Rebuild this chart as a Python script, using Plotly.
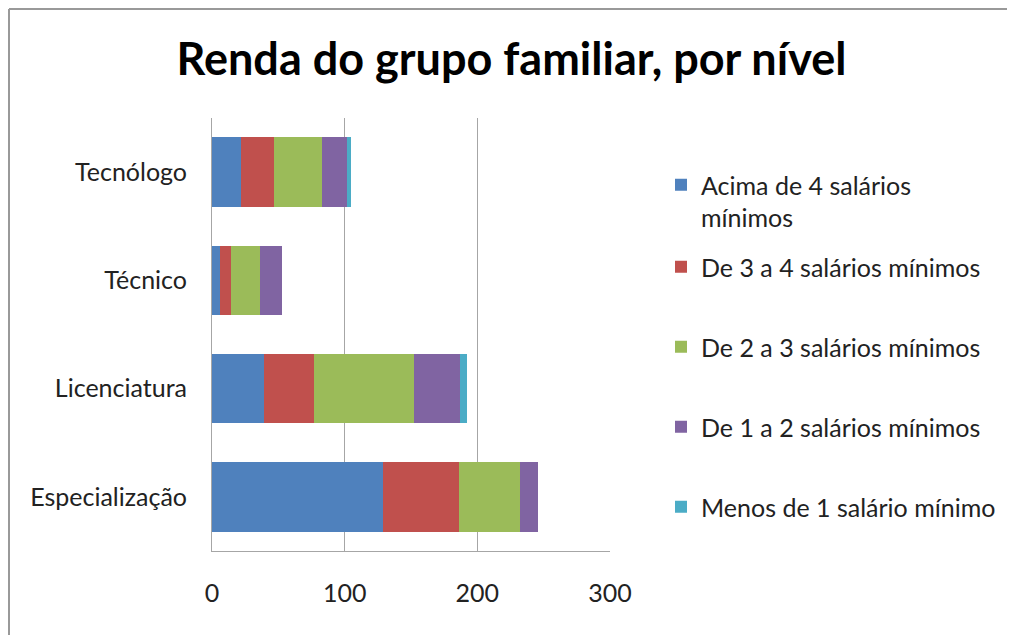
import plotly.graph_objects as go

categories = ["Especialização", "Licenciatura", "Técnico", "Tecnólogo"]
series_names = [
    "Acima de 4 salários<br>mínimos",
    "De 3 a 4 salários mínimos",
    "De 2 a 3 salários mínimos",
    "De 1 a 2 salários mínimos",
    "Menos de 1 salário mínimo",
]
acima_4 = [129, 39, 6, 22]
de_3_a_4 = [57, 38, 8, 25]
de_2_a_3 = [46, 75, 22, 36]
de_1_a_2 = [14, 35, 17, 19]
menos_1 = [0, 5, 0, 3]
x_ticks = [0, 100, 200, 300]

series_values = [acima_4, de_3_a_4, de_2_a_3, de_1_a_2, menos_1]
colors = ["#4F81BD", "#C0504D", "#9BBB59", "#8064A2", "#4BACC6"]

OFF = 8  # page body margin
W, H = 1007, 627
ML, MR, MT, MB = 204, 405, 110, 84
PW = W - ML - MR
PH = H - MT - MB

def px_x(p):
    return (p - OFF - ML) / PW

def px_y(p):
    return (OFF + H - MB - p) / PH

FONT = "Lato, 'Open Sans', sans-serif"
FS = 25

fig = go.Figure()
legend_ids = ["legend", "legend2", "legend3", "legend4", "legend5"]
legend_centers = [201, 267, 347, 427, 507]
for name, vals, col, lid in zip(series_names, series_values, colors, legend_ids):
    fig.add_trace(go.Bar(
        y=categories, x=vals, name=name, orientation="h",
        marker=dict(color=col, line=dict(width=0)),
        legend=lid,
    ))

layout_legends = {}
for lid, yc in zip(legend_ids, legend_centers):
    layout_legends[lid] = dict(
        x=px_x(661), xanchor="left", y=px_y(yc), yanchor="middle",
        font=dict(family=FONT, size=FS, color="#222222"),
        bgcolor="rgba(0,0,0,0)", valign="top", itemclick=False,
    )

fig.update_layout(
    width=W, height=H,
    margin=dict(l=ML, r=MR, t=MT, b=MB),
    barmode="stack",
    bargap=0.36,
    paper_bgcolor="white", plot_bgcolor="white",
    title=dict(text="<b>Renda do grupo familiar, por nível</b>",
               x=px_x(511.5), xanchor="center", xref="paper",
               y=1 - (59 - OFF) / H, yanchor="middle",
               font=dict(family=FONT, size=45, color="black")),
    xaxis=dict(range=[0, 300], tickvals=x_ticks, showgrid=True,
               gridcolor="#A6A6A6", gridwidth=1, showline=True,
               linecolor="#A6A6A6", linewidth=1, zeroline=False,
               ticks="", ticklabelstandoff=20,
               tickfont=dict(family=FONT, size=FS, color="#222222")),
    yaxis=dict(showgrid=False, showline=True, linecolor="#A6A6A6",
               linewidth=1, ticks="", ticklabelstandoff=19,
               tickfont=dict(family=FONT, size=FS, color="#222222")),
    showlegend=True,
    shapes=[
        dict(type="line", xref="paper", yref="paper",
             x0=px_x(9), x1=px_x(1015), y0=px_y(9), y1=px_y(9),
             line=dict(color="#999999", width=2)),
        dict(type="line", xref="paper", yref="paper",
             x0=px_x(9), x1=px_x(9), y0=px_y(9), y1=px_y(640),
             line=dict(color="#999999", width=2)),
    ],
    **layout_legends,
)

fig.write_html("out.html")
